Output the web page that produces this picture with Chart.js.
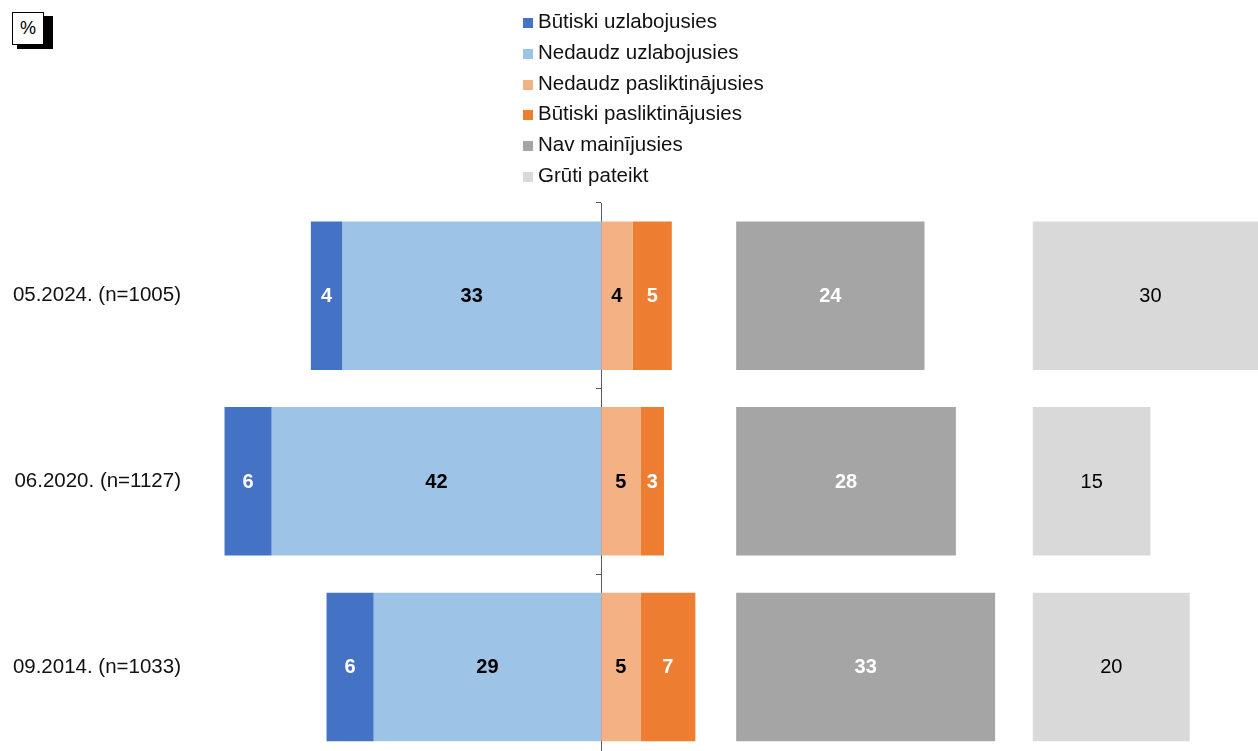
<!DOCTYPE html>
<html>
<head>
<meta charset="utf-8">
<script src="https://cdn.jsdelivr.net/npm/chart.js@4/dist/chart.umd.min.js"></script>
<style>
  body { margin: 0; background: #fff; overflow: hidden; font-family: "Liberation Sans", Arial, sans-serif; }
  #wrap { position: relative; width: 1258px; height: 781px; }
  #unitShadow { position: absolute; left: 17px; top: 16px; width: 36px; height: 33px; background: #000; }
  #unit {
    position: absolute; left: 12px; top: 12px; width: 30px; height: 31px;
    border: 1px solid #000; background: #fff;
    font-size: 18px; line-height: 31px; text-align: center; color: #000;
  }
  #legend { position: absolute; left: 523px; top: 6px; font-size: 20.5px; color: #111; }
  #legend div { height: 30.8px; line-height: 30.8px; white-space: nowrap; }
  #legend span { display: inline-block; width: 10px; height: 10px; margin-right: 5px; vertical-align: 0px; }
</style>
</head>
<body>
<div id="wrap">
  <canvas id="chart" width="1258" height="781"></canvas>
  <div id="unitShadow"></div>
  <div id="unit">%</div>
  <div id="legend"></div>
</div>
<script>
const periods = ['05.2024. (n=1005)', '06.2020. (n=1127)', '09.2014. (n=1033)'];
const seriesNames = ['Būtiski uzlabojusies', 'Nedaudz uzlabojusies', 'Nedaudz pasliktinājusies',
  'Būtiski pasliktinājusies', 'Nav mainījusies', 'Grūti pateikt'];
const muchBetter = [4, 6, 6];
const slightlyBetter = [33, 42, 29];
const slightlyWorse = [4, 5, 5];
const muchWorse = [5, 3, 7];
const noChange = [24, 28, 33];
const hardToSay = [30, 15, 20];

const colors = ['#4472C4', '#9DC3E6', '#F4B183', '#ED7D31', '#A5A5A5', '#D9D9D9'];
const labelColors = ['#fff', '#000', '#000', '#fff', '#fff', '#000'];
const labelBold = [true, true, true, true, true, false];

// where the two separate blocks start on the x scale
const NAV_START = 17.2;
const GRUTI_START = 55;

const values = [muchBetter, slightlyBetter, slightlyWorse, muchWorse, noChange, hardToSay];
const ranges = [
  muchBetter.map((v, i) => [-(v + slightlyBetter[i]), -slightlyBetter[i]]),
  slightlyBetter.map(v => [-v, 0]),
  slightlyWorse.map(v => [0, v]),
  muchWorse.map((v, i) => [slightlyWorse[i], slightlyWorse[i] + v]),
  noChange.map(v => [NAV_START, NAV_START + v]),
  hardToSay.map(v => [GRUTI_START, GRUTI_START + v])
];

const legend = document.getElementById('legend');
seriesNames.forEach((name, i) => {
  const row = document.createElement('div');
  row.innerHTML = '<span style="background:' + colors[i] + '"></span>' + name;
  legend.appendChild(row);
});

const barLabels = {
  id: 'barLabels',
  afterDatasetsDraw(chart) {
    const ctx = chart.ctx;
    ctx.save();
    ctx.textAlign = 'center';
    ctx.textBaseline = 'middle';
    chart.data.datasets.forEach((ds, di) => {
      ctx.fillStyle = labelColors[di];
      ctx.font = (labelBold[di] ? 'bold ' : '') + '20px "Liberation Sans", Arial, sans-serif';
      chart.getDatasetMeta(di).data.forEach((bar, i) => {
        ctx.fillText(values[di][i], (bar.x + bar.base) / 2, bar.y + 1);
      });
    });
    ctx.restore();
  }
};

new Chart(document.getElementById('chart'), {
  type: 'bar',
  data: {
    labels: periods,
    datasets: seriesNames.map((name, i) => ({
      label: name,
      data: ranges[i],
      backgroundColor: colors[i],
      borderWidth: 0,
      grouped: false,
      categoryPercentage: 0.8,
      barPercentage: 1
    }))
  },
  options: {
    indexAxis: 'y',
    responsive: false,
    animation: false,
    layout: { padding: { top: 203, right: 0, bottom: 0, left: 0 } },
    plugins: { legend: { display: false }, tooltip: { enabled: false } },
    scales: {
      x: { display: false, min: -52.4, max: 83.7 },
      y: {
        type: 'category',
        offset: true,
        grid: { display: false, drawTicks: false },
        border: { display: false },
        ticks: { color: '#111', padding: 9, font: { size: 20.5, family: '"Liberation Sans", Arial, sans-serif' } },
        afterFit(scale) { scale.width = 190; }
      },
      y2: {
        type: 'category',
        position: { x: 0 },
        offset: true,
        grid: { offset: true, drawOnChartArea: false, drawTicks: true, tickLength: 5, color: '#595959' },
        border: { display: true, color: '#595959', width: 1 },
        ticks: { display: false }
      }
    }
  },
  plugins: [barLabels]
});
</script>
</body>
</html>
